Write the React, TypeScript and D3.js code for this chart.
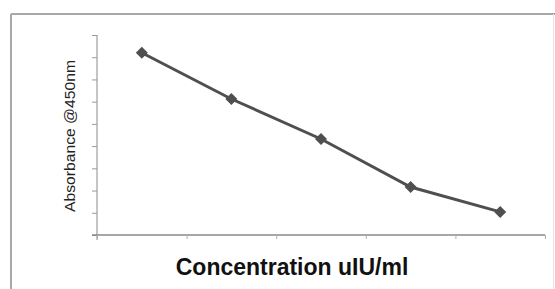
import React, { useEffect, useRef } from 'react'
import * as d3 from 'd3'

// five standards (no tick labels are shown)
const standards = ['S1', 'S2', 'S3', 'S4', 'S5']
const absorbance = [8.2, 6.12, 4.32, 2.16, 1.04]
const yTicks = [0, 1, 2, 3, 4, 5, 6, 7, 8, 9]
const xTitle = 'Concentration uIU/ml'
const yTitle = 'Absorbance @450nm'

const App = () => {
  const ref = useRef<SVGSVGElement>(null)

  useEffect(() => {
    const svg = d3.select(ref.current)
    svg.selectAll('*').remove()

    const width = 555
    const height = 289
    const left = 97
    const right = 545
    const top = 35
    const bottom = 235

    // frame
    const frame = svg.append('g').attr('stroke', '#a8a8a8').attr('stroke-width', 2)
    frame.append('line').attr('x1', 11).attr('x2', width).attr('y1', 14).attr('y2', 14)
    frame.append('line').attr('x1', 11).attr('x2', 11).attr('y1', 14).attr('y2', height)
    frame
      .append('line')
      .attr('x1', 553.5)
      .attr('x2', 553.5)
      .attr('y1', 14)
      .attr('y2', height)
      .attr('stroke', '#e4e4e4')
      .attr('stroke-width', 1)

    const x = d3.scaleLinear().domain([0, standards.length]).range([left, right])
    const y = d3.scaleLinear().domain([0, 9]).range([bottom, top])

    const yAxis = svg
      .append('g')
      .attr('transform', `translate(${left},0)`)
      .call(
        d3
          .axisLeft(y)
          .tickValues(yTicks)
          .tickSize(5)
          .tickFormat(() => '')
      )
    yAxis.select('.domain').attr('stroke', '#8a8a8a').attr('d', `M0,${top}V${bottom + 5}`)
    yAxis.selectAll('.tick line').attr('stroke', '#9a9a9a')

    const xAxis = svg
      .append('g')
      .attr('transform', `translate(0,${bottom})`)
      .call(
        d3
          .axisBottom(x)
          .ticks(standards.length)
          .tickSize(4)
          .tickFormat(() => '')
      )
    xAxis.select('.domain').attr('stroke', '#8a8a8a').attr('stroke-width', 1.5).attr('d', `M${left - 5},0H${right}`)
    xAxis.selectAll('.tick line').attr('stroke', '#b0b0b0')

    const pts = absorbance.map((v, i) => [x(i + 0.5), y(v)] as [number, number])

    svg
      .append('path')
      .attr('d', d3.line()(pts))
      .attr('fill', 'none')
      .attr('stroke', '#4f4f4f')
      .attr('stroke-width', 3)

    svg
      .append('g')
      .selectAll('path')
      .data(pts)
      .enter()
      .append('path')
      .attr('d', d3.symbol().type(d3.symbolSquare).size(72)())
      .attr('transform', (d) => `translate(${d[0]},${d[1]}) rotate(45)`)
      .attr('fill', '#4f4f4f')

    svg
      .append('text')
      .text(xTitle)
      .attr('x', 292)
      .attr('y', 275)
      .attr('text-anchor', 'middle')
      .attr('font-family', 'Liberation Sans, Arial, sans-serif')
      .attr('font-weight', 'bold')
      .attr('font-size', 23)
      .attr('fill', '#111')

    svg
      .append('text')
      .text(yTitle)
      .attr('transform', 'translate(75,136) rotate(-90)')
      .attr('text-anchor', 'middle')
      .attr('font-family', 'Liberation Sans, Arial, sans-serif')
      .attr('font-size', 15)
      .attr('textLength', 152)
      .attr('lengthAdjust', 'spacingAndGlyphs')
      .attr('fill', '#222')
  }, [])

  return (
    <svg
      ref={ref}
      width={555}
      height={289}
      style={{ position: 'absolute', top: 0, left: 0, background: '#fff' }}
    />
  )
}

export default App
